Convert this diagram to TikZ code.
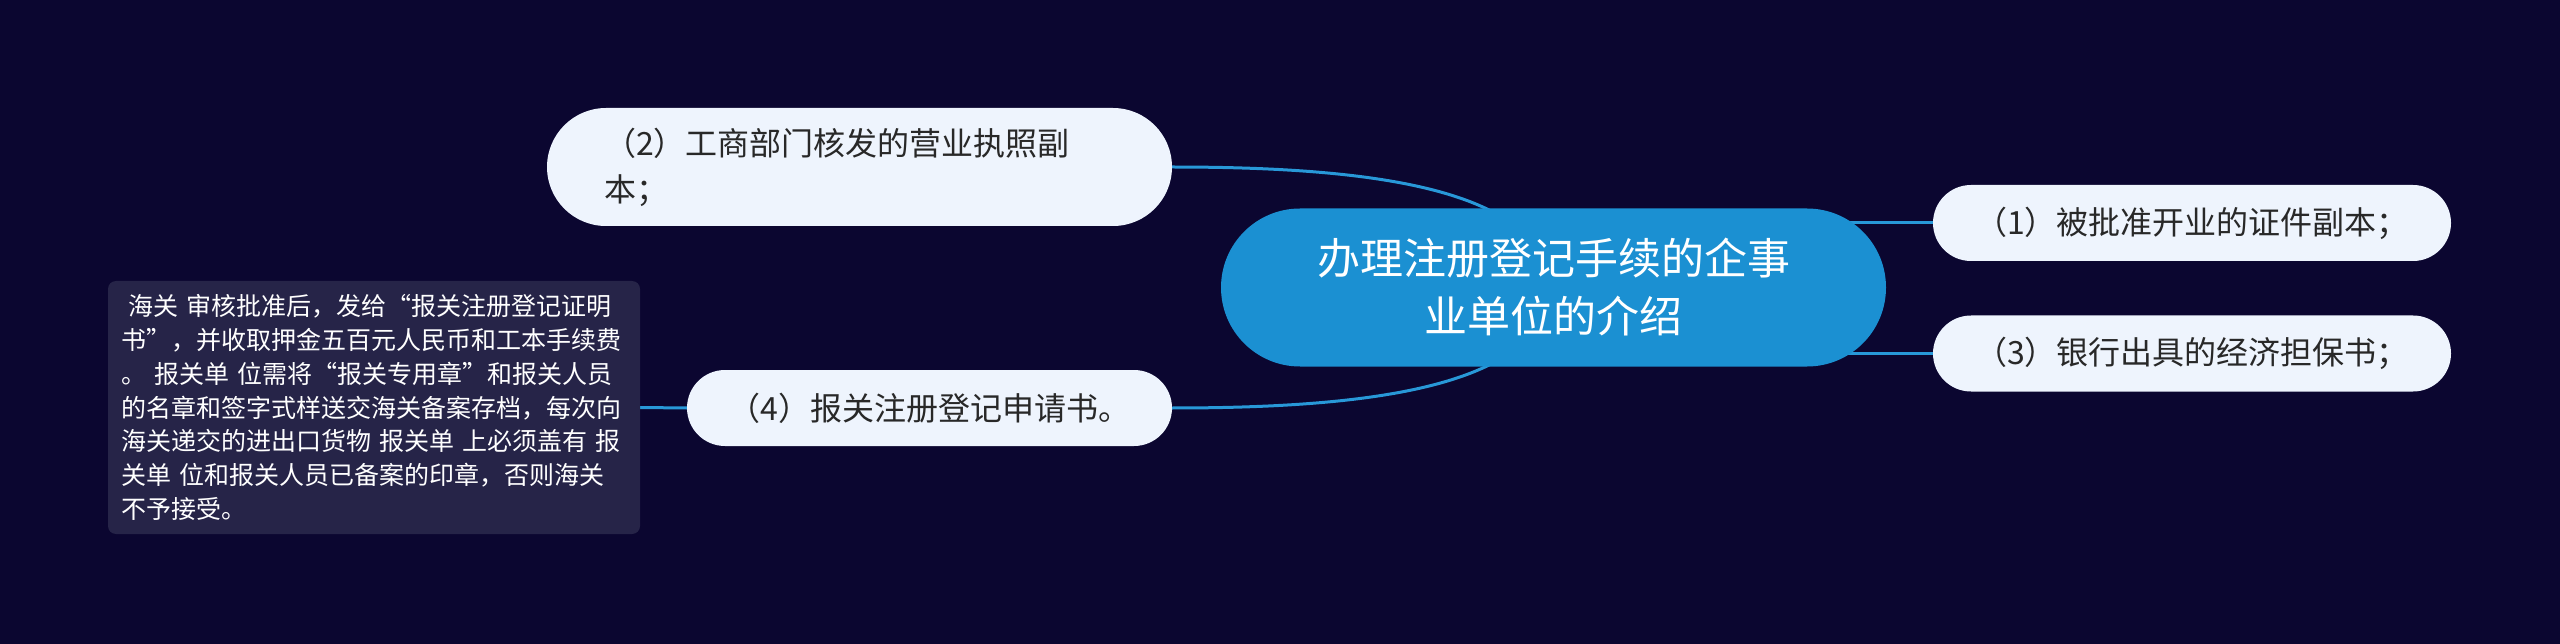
\documentclass[tikz,border=0pt]{standalone}
\usepackage{fontspec}
\newfontfamily\cjk{Noto Sans CJK SC}
\definecolor{bgcol}{RGB}{11,6,48}
\definecolor{rootcol}{RGB}{27,144,210}
\definecolor{childcol}{RGB}{238,244,253}
\definecolor{detailcol}{RGB}{38,36,72}
\definecolor{linecol}{RGB}{40,152,216}
\definecolor{txtcol}{RGB}{40,40,40}
\pgfdeclarelayer{back}
\pgfdeclarelayer{bg}
\pgfsetlayers{back,bg,main}
\tikzset{
  rootbox/.style={fill=rootcol, text=white, rounded corners=79pt, minimum width=665pt, minimum height=158pt,
    inner sep=0pt, text width=600pt, align=center, font=\cjk\fontsize{43}{58}\selectfont},
  childbox/.style={fill=childcol, text=txtcol, rounded corners=38pt, minimum height=76pt, inner ysep=0pt,
    font=\cjk\fontsize{32}{46}\selectfont},
  detailbox/.style={fill=detailcol, text=white, rounded corners=8pt, minimum width=532pt, minimum height=253pt,
    inner xsep=13pt, inner ysep=0pt, text width=506pt, align=left, font=\cjk\fontsize{25}{33.8}\selectfont},
  conn/.style={draw=linecol, line width=3pt},
}
\begin{document}
\begin{tikzpicture}[x=1pt,y=-1pt]
\begin{pgfonlayer}{back}
\fill[bgcol] (0,0) rectangle (2560,644);
\end{pgfonlayer}
\useasboundingbox (0,0) rectangle (2560,644);
\node[rootbox] (root) at (1553.5,287.5) {办理注册登记手续的企事\\业单位的介绍};
\node[childbox, rounded corners=59pt, minimum width=625pt, minimum height=118pt, inner xsep=57pt, text width=511pt, align=left] (n2) at (859.5,167) {（2）工商部门核发的营业执照副\\本；};
\node[childbox, minimum width=518pt, inner xsep=20pt, text width=478pt, align=center] (n1) at (2192,223) {（1）被批准开业的证件副本；};
\node[childbox, minimum width=518pt, inner xsep=20pt, text width=478pt, align=center] (n3) at (2192,353.5) {（3）银行出具的经济担保书；};
\node[childbox, minimum width=485pt, inner xsep=20pt, text width=445pt, align=center] (n4) at (929.5,408) {（4）报关注册登记申请书。};
\node[detailbox] (detail) at (374,407.5) {\hspace*{0.3em}海关 审核批准后，发给“报关注册登记证明\\书”，并收取押金五百元人民币和工本手续费\\。 报关单 位需将“报关专用章”和报关人员\\的名章和签字式样送交海关备案存档，每次向\\海关递交的进出口货物 报关单 上必须盖有 报\\关单 位和报关人员已备案的印章，否则海关\\不予接受。};
\begin{pgfonlayer}{bg}
\draw[conn] (n2.east) .. controls (1380,167) and (1540,190) .. (root.center);
\draw[conn] (n4.east) .. controls (1380,408) and (1540,385) .. (root.center);
\draw[conn] (n1.west) -- (n1.west -| root.center);
\draw[conn] (n3.west) -- (n3.west -| root.center);
\draw[conn] (detail.east) -- (n4.west);
\end{pgfonlayer}
\end{tikzpicture}
\end{document}
